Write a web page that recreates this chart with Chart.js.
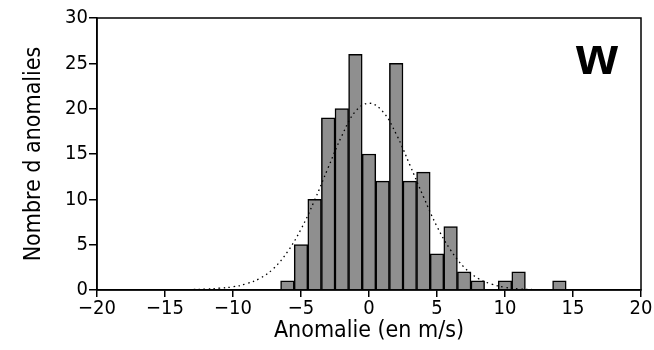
<!DOCTYPE html>
<html>
<head>
<meta charset="utf-8">
<script src="https://cdn.jsdelivr.net/npm/chart.js@4"></script>
<style>
  html, body { margin: 0; padding: 0; background: #fff; }
  #wrap { width: 654px; height: 350px; }
</style>
</head>
<body>
<div id="wrap"><canvas id="histChart" width="654" height="350"></canvas></div>
<script>
// histogram bins (centres, m/s) and counts
const binCentres = [-6, -5, -4, -3, -2, -1, 0, 1, 2, 3, 4, 5, 6, 7, 8, 9, 10, 11, 12, 13, 14];
const binCounts  = [1, 5, 10, 19, 20, 26, 15, 12, 25, 12, 13, 4, 7, 2, 1, 0, 1, 2, 0, 0, 1];

// fitted curve
const curveX = [-14, -13, -12, -11, -10, -9, -8, -7, -6, -5, -4, -3, -2, -1, 0, 1, 2, 3, 4, 5, 6, 7, 8, 9, 10, 11, 12, 13, 14];
const curveY = [0.02, 0.05, 0.1, 0.2, 0.35, 0.7, 1.3, 2.4, 4.2, 6.7, 9.9, 13.5, 17.0, 19.7, 20.6, 19.7, 17.2, 13.8, 10.3, 7.0, 4.4, 2.5, 1.3, 0.65, 0.3, 0.12, 0.05, 0.02, 0.01];

const xTicks = [-20, -15, -10, -5, 0, 5, 10, 15, 20];
const yTicks = [0, 5, 10, 15, 20, 25, 30];

const FONT = '"DejaVu Sans Condensed", "Liberation Sans Narrow", "DejaVu Sans", sans-serif';

const framePlugin = {
    id: 'frame',
    afterDraw(chart) {
        const ctx = chart.ctx;
        const a = chart.chartArea;
        ctx.save();
        ctx.strokeStyle = '#000';
        ctx.lineWidth = 1.5;
        ctx.strokeRect(a.left, a.top, a.right - a.left, a.bottom - a.top);
        // panel letter
        ctx.font = 'bold 54px "Liberation Sans", Arial, sans-serif';
        ctx.fillStyle = '#000';
        ctx.textAlign = 'center';
        ctx.textBaseline = 'alphabetic';
        ctx.fillText('w', 597, 74);
        ctx.restore();
    }
};

const minusFmt = v => String(v).replace('-', '\u2212');

new Chart(document.getElementById('histChart'), {
    data: {
        datasets: [
            {
                type: 'line',
                data: curveX.map((x, i) => ({ x: x, y: curveY[i] })),
                borderColor: '#000',
                borderWidth: 1.3,
                borderDash: [1.5, 3.5],
                pointRadius: 0,
                tension: 0.4,
                fill: false,
                order: 0
            },
            {
                type: 'bar',
                data: binCentres.map((x, i) => ({ x: x, y: binCounts[i] > 0 ? binCounts[i] : null })),
                backgroundColor: '#8f8f8f',
                borderColor: '#000',
                borderWidth: 1.5,
                barPercentage: 1,
                categoryPercentage: 1,
                order: 1
            }
        ]
    },
    options: {
        responsive: false,
        animation: false,
        layout: { padding: { top: 18, right: 13, left: 0, bottom: 0 } },
        plugins: { legend: { display: false }, tooltip: { enabled: false } },
        scales: {
            x: {
                type: 'linear',
                min: -20,
                max: 20,
                offset: false,
                afterBuildTicks: s => { s.ticks = xTicks.map(v => ({ value: v })); },
                afterFit: s => { s.height = 60; },
                grid: { offset: false, drawOnChartArea: false, drawTicks: true, tickLength: 7, color: '#000', lineWidth: 1.5 },
                border: { display: true, color: '#000', width: 1.5 },
                ticks: { color: '#000', font: { family: FONT, size: 20 }, padding: 0, maxRotation: 0, callback: minusFmt },
                title: { display: true, text: 'Anomalie (en m/s)', color: '#000', font: { family: FONT, size: 23 }, padding: { top: 0, bottom: 5 } }
            },
            y: {
                min: 0,
                max: 30,
                afterBuildTicks: s => { s.ticks = yTicks.map(v => ({ value: v })); },
                afterFit: s => { s.width = 97; },
                grid: { drawOnChartArea: false, drawTicks: true, tickLength: 8, color: '#000', lineWidth: 1.5 },
                border: { display: true, color: '#000', width: 1.5 },
                ticks: { color: '#000', font: { family: FONT, size: 20 }, padding: 1 },
                title: { display: true, text: 'Nombre d anomalies', color: '#000', font: { family: FONT, size: 23 }, padding: { top: 20, bottom: 14 } }
            }
        }
    },
    plugins: [framePlugin]
});
</script>
</body>
</html>
